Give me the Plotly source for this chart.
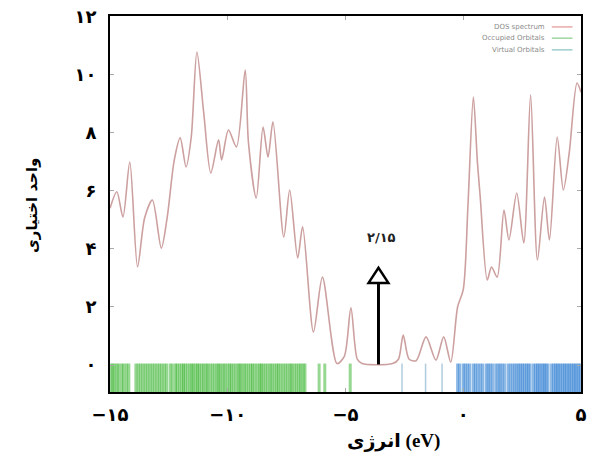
import plotly.graph_objects as go

# ---------------- data ----------------
dos_energy = [-15.0, -14.71, -14.45, -14.16, -13.83, -13.53, -13.2, -12.82, -12.57, -12.27,
              -12.02, -11.77, -11.55, -11.31, -11.02, -10.72, -10.39, -10.26, -9.97, -9.63,
              -9.26, -9.12, -8.79, -8.5, -8.29, -8.08, -7.62, -7.37, -7.03, -6.82,
              -6.36, -5.98, -5.36, -5.05, -4.77, -4.5, -4.3, -3.0, -2.75, -2.55,
              -2.3, -2.0, -1.58, -1.16, -0.83, -0.53, -0.24, 0.0, 0.2, 0.43,
              0.6, 0.72, 1.02, 1.2, 1.44, 1.73, 1.94, 2.27, 2.57, 2.86,
              3.15, 3.45, 3.66, 3.99, 4.25, 4.5, 4.83, 5.0]
dos_intensity = [5.4, 5.97, 5.1, 7.0, 3.38, 5.07, 5.69, 4.03, 5.1, 7.07,
                 7.83, 6.83, 7.86, 10.79, 8.69, 6.62, 7.76, 7.07, 8.1, 7.52,
                 10.17, 7.66, 5.76, 8.2, 7.17, 8.38, 4.41, 6.03, 3.69, 4.76,
                 1.14, 3.03, 0.05, 0.3, 1.97, 0.2, 0.05, 0.05, 0.2, 1.03,
                 0.2, 0.15, 0.97, 0.17, 0.97, 0.1, 2.0, 2.6, 5.5, 9.24,
                 7.0, 5.8, 2.93, 3.38, 3.03, 5.34, 4.31, 5.93, 4.21, 9.31,
                 3.62, 5.79, 4.31, 7.86, 6.03, 7.31, 9.72, 9.4]

occupied_energies = [-14.95, -14.88, -14.8, -14.7, -14.62, -14.5, -14.42, -14.3, -14.2, -13.9,
                     -13.8, -13.7, -13.6, -13.5, -13.4, -13.3, -13.2, -13.1, -13.0, -12.9,
                     -12.8, -12.7, -12.6, -12.45, -12.35, -12.22, -12.15, -12.05, -11.95, -11.88,
                     -11.8, -11.7, -11.6, -11.52, -11.45, -11.35, -11.28, -11.2, -11.1, -11.02,
                     -10.92, -10.85, -10.75, -10.65, -10.55, -10.45, -10.38, -10.3, -10.2, -10.12,
                     -10.02, -9.92, -9.85, -9.75, -9.65, -9.55, -9.48, -9.4, -9.3, -9.22,
                     -9.12, -9.02, -8.95, -8.85, -8.75, -8.65, -8.58, -8.5, -8.4, -8.3,
                     -8.2, -8.12, -8.02, -7.92, -7.85, -7.75, -7.65, -7.55, -7.45, -7.35,
                     -7.28, -7.18, -7.08, -6.98, -6.9, -6.8, -6.72, -6.12, -5.88, -4.8]
virtual_energies = [-2.6, -1.6, -0.9, -0.24, -0.15, 0.0, 0.08, 0.18, 0.28, 0.43,
                    0.52, 0.62, 0.72, 0.82, 0.97, 1.06, 1.14, 1.24, 1.38, 1.48,
                    1.56, 1.65, 1.75, 1.9, 2.0, 2.1, 2.19, 2.28, 2.36, 2.44,
                    2.52, 2.6, 2.69, 2.76, 2.84, 2.98, 3.07, 3.15, 3.22, 3.3,
                    3.38, 3.45, 3.52, 3.6, 3.75, 3.84, 3.92, 3.99, 4.06, 4.14,
                    4.22, 4.3, 4.37, 4.45, 4.52, 4.6, 4.68, 4.75, 4.82, 4.9, 4.97]

x_tick_vals = [-15, -10, -5, 0, 5]
x_tick_text = ["−۱۵", "−۱۰", "−۵", "۰", "۵"]
y_tick_vals = [0, 2, 4, 6, 8, 10, 12]
y_tick_text = ["۰", "۲", "۴", "۶", "۸", "۱۰", "۱۲"]
legend_names = ["DOS spectrum", "Occupied Orbitals", "Virtual Orbitals"]
x_title = "انرژی (eV)"
y_title = "واحد اختیاری"
gap_label = "۲/۱۵"
arrow_energy = -3.6
arrow_base = 0.02
arrow_tip = 3.35

# ---------------- style ----------------
X_RANGE = [-15, 5]
Y_RANGE = [-0.93, 12.03]
DOS_COLOR = "rgb(205,160,160)"
OCC_COLOR = "rgba(45,175,35,0.5)"
VIR_COLOR = "rgba(45,125,210,0.55)"
FONT = "DejaVu Sans"
TITLE_FONT = "Liberation Serif, DejaVu Sans"

fig = go.Figure()

for e in occupied_energies:
    fig.add_trace(go.Scatter(x=[e, e], y=[Y_RANGE[0], 0.05], mode="lines",
                             line=dict(color=OCC_COLOR, width=3), showlegend=False,
                             hoverinfo="skip"))
for e in virtual_energies:
    w = 1.5 if e < -0.5 else 3
    c = "rgba(120,170,200,0.6)" if e < -0.5 else VIR_COLOR
    fig.add_trace(go.Scatter(x=[e, e], y=[Y_RANGE[0], 0.05], mode="lines",
                             line=dict(color=c, width=w), showlegend=False,
                             hoverinfo="skip"))

fig.add_trace(go.Scatter(x=dos_energy, y=dos_intensity, mode="lines",
                         line=dict(color=DOS_COLOR, width=1.6, shape="spline", smoothing=0.8),
                         showlegend=False, name=legend_names[0]))

# arrow (shaft + hollow head)
head_len = 0.52
head_half = 0.42
fig.add_shape(type="line", xref="x", yref="y", x0=arrow_energy, x1=arrow_energy,
              y0=arrow_base, y1=arrow_tip - head_len, line=dict(color="black", width=3))
fig.add_shape(type="path", xref="x", yref="y",
              path=(f"M {arrow_energy - head_half} {arrow_tip - head_len} "
                    f"L {arrow_energy + head_half} {arrow_tip - head_len} "
                    f"L {arrow_energy} {arrow_tip} Z"),
              fillcolor="white", line=dict(color="black", width=2.5))
fig.add_annotation(x=arrow_energy + 0.14, y=4.38, xref="x", yref="y", text=gap_label,
                   showarrow=False, font=dict(family=FONT, size=13, color="#222", weight="bold"))

# gnuplot-style legend (text left, sample right)
legend_rows = [0.971, 0.941, 0.910]
legend_colors = ["rgb(232,170,170)", "rgb(160,215,160)", "rgb(160,205,205)"]
for name, yy, col in zip(legend_names, legend_rows, legend_colors):
    fig.add_annotation(x=0.928, y=yy, xref="paper", yref="paper", text=name,
                       xanchor="right", yanchor="middle", showarrow=False,
                       font=dict(family=FONT, size=7, color="#8a8a8a"))
    fig.add_shape(type="line", xref="paper", yref="paper", x0=0.938, x1=0.982,
                  y0=yy, y1=yy, line=dict(color=col, width=1.5))

# axis titles as annotations (pixel positions converted to paper coords)
fig.add_annotation(x=(31 - 110) / 477, y=(392 - 205) / 376, xref="paper", yref="paper",
                   text=y_title, showarrow=False, textangle=-90, xanchor="center",
                   font=dict(family=FONT, size=15, color="black", weight="bold"))
fig.add_annotation(x=(397 - 110) / 477, y=(392 - 441) / 376, xref="paper", yref="paper",
                   text=x_title, showarrow=False, xanchor="center", yanchor="middle",
                   font=dict(family=TITLE_FONT, size=19, color="black", weight="bold"))

fig.update_layout(
    width=593, height=462,
    margin=dict(l=110, r=6, t=16, b=70),
    paper_bgcolor="white", plot_bgcolor="white",
    showlegend=False,
)

fig.update_xaxes(range=X_RANGE, tickvals=x_tick_vals, ticktext=x_tick_text,
                 showgrid=False, zeroline=False, showline=True, linecolor="black", linewidth=2,
                 mirror="ticks", ticks="inside", ticklen=4, tickcolor="#aaaaaa",
                 tickfont=dict(family=FONT, size=18, color="black", weight="bold"),
                 ticklabelstandoff=5)
fig.update_yaxes(range=Y_RANGE, tickvals=y_tick_vals, ticktext=y_tick_text,
                 showgrid=False, zeroline=False, showline=True, linecolor="black", linewidth=2,
                 mirror="ticks", ticks="inside", ticklen=4, tickcolor="#aaaaaa",
                 tickfont=dict(family=FONT, size=18, color="black", weight="bold"),
                 ticklabelstandoff=8)

fig.write_html("out.html")
